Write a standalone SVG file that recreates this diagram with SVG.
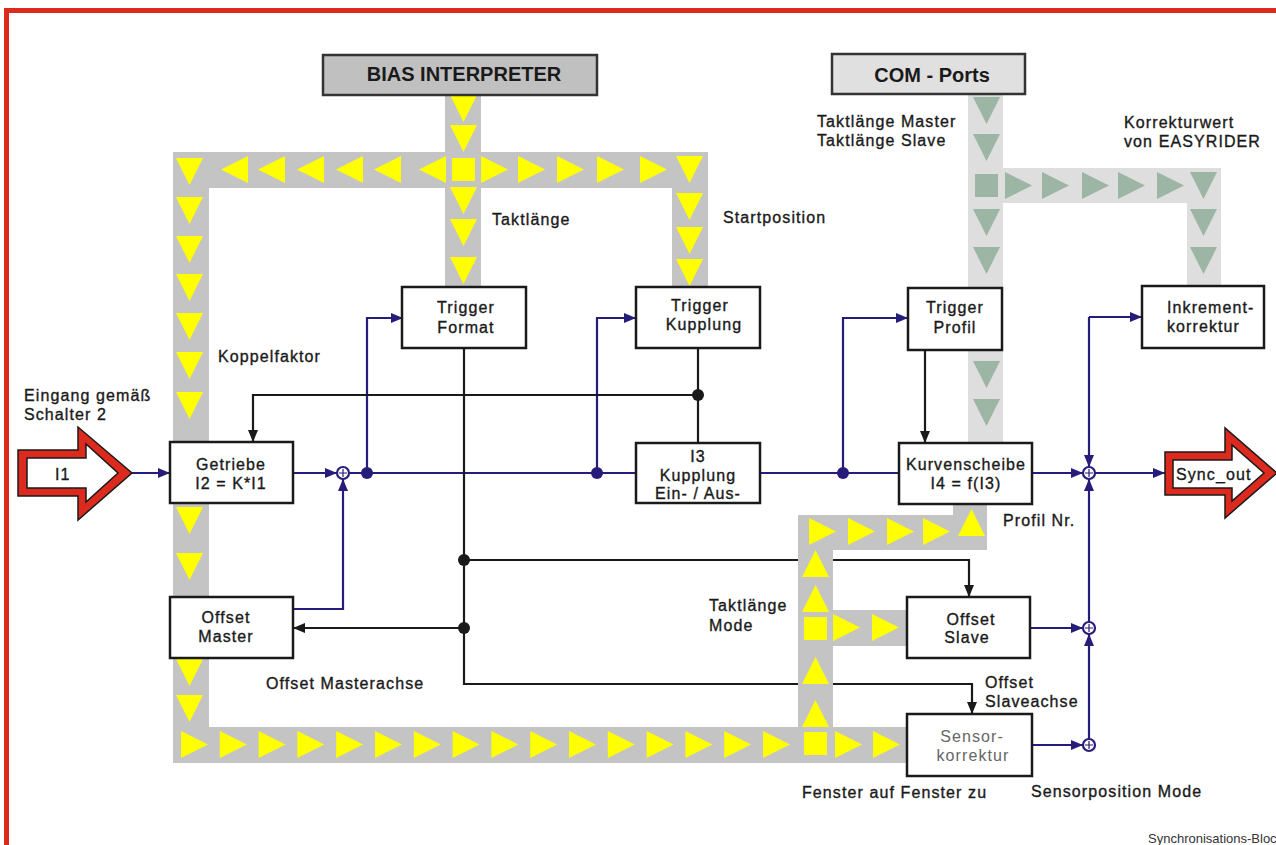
<svg xmlns="http://www.w3.org/2000/svg" xmlns:xlink="http://www.w3.org/1999/xlink" width="1276" height="845" viewBox="0 0 1276 845">
<style>
.t{font-family:"Liberation Sans",Arial,sans-serif;font-size:16px;letter-spacing:1.1px;fill:#1a1a1a;stroke:#1a1a1a;stroke-width:0.35}
.m{text-anchor:middle}
.hdr{font-family:"Liberation Sans",Arial,sans-serif;font-size:20px;font-weight:bold;fill:#1a1a1a;text-anchor:middle}
.box{fill:#fff;stroke:#1a1a1a;stroke-width:2.5}
.bl{fill:none;stroke:#261c7a;stroke-width:2.2}
.bk{fill:none;stroke:#1a1a1a;stroke-width:2.2}
.stripe{fill:#c4c4c4}
.cstripe{fill:#dedede}
.y{fill:#ffff00}
.g{fill:#9cb5a4}
.red{fill:#dd2a1e;stroke:#1a1a1a;stroke-width:1.5}
.wh{fill:#fff;stroke:#1a1a1a;stroke-width:1.5}
</style>
<defs>
<polygon id="td" points="0,0 27,0 13.5,27"/>
<polygon id="tu" points="0,27 27,27 13.5,0"/>
<polygon id="tr" points="0,0 27,13.5 0,27"/>
<polygon id="tl" points="27,0 0,13.5 27,27"/>
<rect id="sq" width="23" height="23"/>
<marker id="ab" viewBox="0 0 12 10" refX="12" refY="5" markerWidth="12" markerHeight="10" markerUnits="userSpaceOnUse" orient="auto"><path d="M0,0 L12,5 L0,10 z" fill="#261c7a"/></marker>
<marker id="ak" viewBox="0 0 12 10" refX="12" refY="5" markerWidth="12" markerHeight="10" markerUnits="userSpaceOnUse" orient="auto"><path d="M0,0 L12,5 L0,10 z" fill="#1a1a1a"/></marker>
</defs>
<rect width="1276" height="845" fill="#fff"/>
<rect x="4" y="8" width="1272" height="5" fill="#dd2a1e"/>
<rect x="4" y="8" width="5" height="837" fill="#dd2a1e"/>

<g id="connectors">
<path class="bl" d="M132,473 H170" marker-end="url(#ab)"/>
<path class="bl" d="M293,473 H337" marker-end="url(#ab)"/>
<path class="bl" d="M349,473 H636"/>
<path class="bl" d="M367,473 V318 H403" marker-end="url(#ab)"/>
<path class="bl" d="M597,473 V318 H636" marker-end="url(#ab)"/>
<path class="bl" d="M293,609 H343 V479" marker-end="url(#ab)"/>
<path class="bl" d="M760,473 H899"/>
<path class="bl" d="M843,473 V318 H908" marker-end="url(#ab)"/>
<path class="bl" d="M1032,473 H1083" marker-end="url(#ab)"/>
<path class="bl" d="M1095,473 H1165" marker-end="url(#ab)"/>
<path class="bl" d="M1089,317 V467" marker-end="url(#ab)"/>
<path class="bl" d="M1089,317 H1142" marker-end="url(#ab)"/>
<path class="bl" d="M1089,622 V479" marker-end="url(#ab)"/>
<path class="bl" d="M1030,628 H1083" marker-end="url(#ab)"/>
<path class="bl" d="M1089,739 V634" marker-end="url(#ab)"/>
<path class="bl" d="M1032,745 H1083" marker-end="url(#ab)"/>
<circle cx="367" cy="473" r="6" fill="#261c7a"/>
<circle cx="597" cy="473" r="6" fill="#261c7a"/>
<circle cx="843" cy="473" r="6" fill="#261c7a"/>
<g class="bl">
<circle cx="343" cy="473" r="6" fill="#fff"/><path d="M339,473 H347 M343,469 V477" stroke-width="1.2"/>
<circle cx="1089" cy="473" r="6" fill="#fff"/><path d="M1085,473 H1093 M1089,469 V477" stroke-width="1.2"/>
<circle cx="1089" cy="628" r="6" fill="#fff"/><path d="M1085,628 H1093 M1089,624 V632" stroke-width="1.2"/>
<circle cx="1089" cy="745" r="6" fill="#fff"/><path d="M1085,745 H1093 M1089,741 V749" stroke-width="1.2"/>
</g>
<path class="bk" d="M464,348 V684 H972 V714" marker-end="url(#ak)"/>
<path class="bk" d="M464,560 H969 V597" marker-end="url(#ak)"/>
<path class="bk" d="M464,628 H293" marker-end="url(#ak)"/>
<path class="bk" d="M698,348 V443"/>
<path class="bk" d="M698,395 H253 V442" marker-end="url(#ak)"/>
<path class="bk" d="M925,350 V443" marker-end="url(#ak)"/>
<circle cx="464" cy="560" r="6" fill="#1a1a1a"/>
<circle cx="464" cy="628" r="6" fill="#1a1a1a"/>
<circle cx="698" cy="395" r="6" fill="#1a1a1a"/>
</g>

<g id="bias-bus">
<rect class="stripe" x="173" y="152" width="535" height="36"/>
<rect class="stripe" x="173" y="152" width="36" height="611"/>
<rect class="stripe" x="445" y="94" width="36" height="193"/>
<rect class="stripe" x="672" y="152" width="36" height="135"/>
<rect class="stripe" x="173" y="727" width="734" height="36"/>
<rect class="stripe" x="798" y="515" width="35" height="248"/>
<rect class="stripe" x="798" y="515" width="189" height="35"/>
<rect class="stripe" x="953" y="500" width="34" height="50"/>
<rect class="stripe" x="833" y="610" width="74" height="36"/>
<g class="y">
<use href="#td" x="176" y="158"/><use href="#td" x="176" y="197"/><use href="#td" x="176" y="236"/><use href="#td" x="176" y="274"/><use href="#td" x="176" y="313"/><use href="#td" x="176" y="352"/><use href="#td" x="176" y="392"/><use href="#td" x="176" y="507"/><use href="#td" x="176" y="553"/><use href="#td" x="176" y="659"/><use href="#td" x="176" y="695"/>
<use href="#tl" x="221" y="156"/><use href="#tl" x="258" y="156"/><use href="#tl" x="297" y="156"/><use href="#tl" x="336" y="156"/><use href="#tl" x="374" y="156"/><use href="#tl" x="419" y="156"/>
<use href="#sq" x="452" y="158"/>
<use href="#tr" x="481" y="156"/><use href="#tr" x="518" y="156"/><use href="#tr" x="557" y="156"/><use href="#tr" x="597" y="156"/><use href="#tr" x="640" y="156"/>
<use href="#td" x="676" y="156"/><use href="#td" x="676" y="193"/><use href="#td" x="676" y="227"/><use href="#td" x="676" y="259"/>
<use href="#td" x="450" y="95"/><use href="#td" x="450" y="125"/><use href="#td" x="450" y="187"/><use href="#td" x="450" y="219"/><use href="#td" x="450" y="257"/>
<use href="#tr" x="181" y="731"/><use href="#tr" x="219.8" y="731"/><use href="#tr" x="258.6" y="731"/><use href="#tr" x="297.4" y="731"/><use href="#tr" x="336.2" y="731"/><use href="#tr" x="375" y="731"/><use href="#tr" x="413.8" y="731"/><use href="#tr" x="452.6" y="731"/><use href="#tr" x="491.4" y="731"/><use href="#tr" x="530.2" y="731"/><use href="#tr" x="569" y="731"/><use href="#tr" x="607.8" y="731"/><use href="#tr" x="646.6" y="731"/><use href="#tr" x="685.4" y="731"/><use href="#tr" x="724.2" y="731"/><use href="#tr" x="763" y="731"/>
<use href="#sq" x="804" y="732"/><use href="#tr" x="835" y="731"/><use href="#tr" x="873" y="731"/>
<use href="#tu" x="802" y="700"/><use href="#tu" x="802" y="657"/>
<use href="#sq" x="804" y="617"/><use href="#tr" x="833" y="614"/><use href="#tr" x="872" y="614"/>
<use href="#tu" x="802" y="585"/><use href="#tu" x="802" y="550"/>
<use href="#tr" x="809" y="518"/><use href="#tr" x="848" y="518"/><use href="#tr" x="887" y="518"/><use href="#tr" x="923" y="518"/>
<use href="#tu" x="958" y="509"/>
</g>
</g>

<g id="com-bus">
<rect class="cstripe" x="968" y="94" width="35" height="349"/>
<rect class="cstripe" x="968" y="168" width="253" height="35"/>
<rect class="cstripe" x="1187" y="168" width="34" height="118"/>
<g class="g">
<use href="#td" x="973" y="97"/><use href="#td" x="973" y="134"/><use href="#sq" x="975" y="174"/><use href="#td" x="973" y="209"/><use href="#td" x="973" y="247"/><use href="#td" x="973" y="361"/><use href="#td" x="973" y="399"/>
<use href="#tr" x="1005" y="172"/><use href="#tr" x="1042" y="172"/><use href="#tr" x="1082" y="172"/><use href="#tr" x="1118" y="172"/><use href="#tr" x="1157" y="172"/>
<use href="#td" x="1190" y="172"/><use href="#td" x="1190" y="209"/><use href="#td" x="1190" y="247"/>
</g>
</g>

<g id="n-bias"><rect x="323" y="55" width="274" height="40" fill="#c0c0c0" stroke="#333" stroke-width="2.5"/><text class="hdr" x="464" y="81">BIAS INTERPRETER</text></g>
<g id="n-com"><rect x="832" y="54" width="193" height="40" fill="#e0e0e0" stroke="#333" stroke-width="2.5"/><text class="hdr" x="932" y="82">COM - Ports</text></g>

<g id="n-trigger-format"><rect class="box" x="402" y="287" width="124" height="61"/><text class="t m" x="466" y="313">Trigger</text><text class="t m" x="466" y="333">Format</text></g>
<g id="n-trigger-kupplung"><rect class="box" x="636" y="287" width="124" height="61"/><text class="t m" x="700" y="311">Trigger</text><text class="t m" x="704" y="330">Kupplung</text></g>
<g id="n-trigger-profil"><rect class="box" x="908" y="288" width="94" height="62"/><text class="t m" x="955" y="313">Trigger</text><text class="t m" x="955" y="333">Profil</text></g>
<g id="n-inkrement"><rect class="box" x="1142" y="286" width="122" height="62"/><text class="t" x="1167" y="313">Inkrement-</text><text class="t" x="1167" y="332">korrektur</text></g>
<g id="n-getriebe"><rect class="box" x="170" y="442" width="123" height="61"/><text class="t m" x="231" y="470">Getriebe</text><text class="t m" x="231" y="489">I2 = K*I1</text></g>
<g id="n-i3"><rect class="box" x="636" y="443" width="124" height="60"/><text class="t m" x="698" y="462">I3</text><text class="t m" x="698" y="481">Kupplung</text><text class="t m" x="698" y="499">Ein- / Aus-</text></g>
<g id="n-kurvenscheibe"><rect class="box" x="899" y="443" width="133" height="61"/><text class="t m" x="966" y="470">Kurvenscheibe</text><text class="t m" x="966" y="489">I4 = f(I3)</text></g>
<g id="n-offset-master"><rect class="box" x="170" y="597" width="123" height="61"/><text class="t m" x="226" y="623">Offset</text><text class="t m" x="226" y="642">Master</text></g>
<g id="n-offset-slave"><rect class="box" x="907" y="597" width="123" height="61"/><text class="t m" x="971" y="625">Offset</text><text class="t m" x="967" y="643">Slave</text></g>
<g id="n-sensorkorrektur"><rect class="box" x="907" y="714" width="125" height="62"/><text class="t m" x="972" y="742" style="fill:#666;stroke:none">Sensor-</text><text class="t m" x="973" y="761" style="fill:#666;stroke:none">korrektur</text></g>

<g id="n-I1"><polygon class="red" points="18,450 78,450 78,427 132,473 78,520 78,496 18,496"/><polygon class="wh" points="27,458 86,458 86,444 118,473 86,502 86,488 27,488"/><text class="t" x="55" y="480">I1</text></g>
<g id="n-sync-out"><polygon class="red" points="1165,452 1225,452 1225,428 1277,473 1225,518 1225,495 1165,495"/><polygon class="wh" points="1173,460 1232,460 1232,445 1264,473 1232,501 1232,488 1173,488"/><text class="t" x="1176" y="480">Sync_out</text></g>

<g id="labels">
<text class="t" x="24" y="401">Eingang gemäß</text>
<text class="t" x="24" y="420">Schalter 2</text>
<text class="t" x="492" y="225">Taktlänge</text>
<text class="t" x="723" y="223">Startposition</text>
<text class="t" x="218" y="362">Koppelfaktor</text>
<text class="t" x="817" y="127">Taktlänge Master</text>
<text class="t" x="817" y="146">Taktlänge Slave</text>
<text class="t" x="1124" y="128">Korrekturwert</text>
<text class="t" x="1124" y="147">von EASYRIDER</text>
<text class="t" x="1003" y="526">Profil Nr.</text>
<text class="t" x="709" y="611">Taktlänge</text>
<text class="t" x="709" y="631">Mode</text>
<text class="t" x="985" y="688">Offset</text>
<text class="t" x="985" y="707">Slaveachse</text>
<text class="t" x="266" y="689">Offset Masterachse</text>
<text class="t" x="802" y="798">Fenster auf Fenster zu</text>
<text class="t" x="1031" y="797">Sensorposition Mode</text>
<text x="1148" y="843" font-family="Liberation Sans, Arial, sans-serif" font-size="13" fill="#333">Synchronisations-Bloc</text>
</g>
</svg>
